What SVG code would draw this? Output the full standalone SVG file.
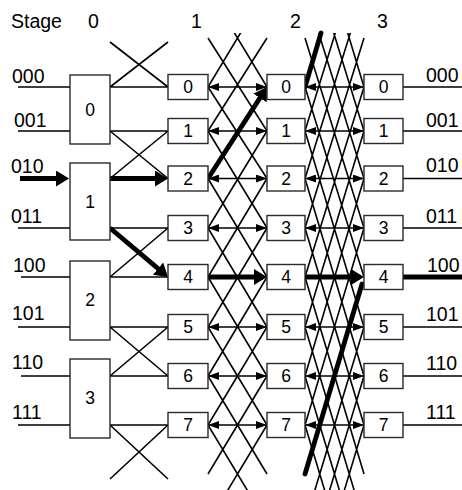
<svg xmlns="http://www.w3.org/2000/svg" width="462" height="490" viewBox="0 0 462 490">
<style>
.box{fill:#fff;stroke:#2a2a2a;stroke-width:1.4}
.ln{stroke:#000;stroke-width:1.6;fill:none}
.tk{stroke:#000;stroke-width:4.8;fill:none}
text{font-family:"Liberation Sans",Arial,sans-serif;fill:#000}
.lb{font-size:19.5px}
.nm{font-size:17.5px;text-anchor:middle}
.da{marker-start:url(#ah);marker-end:url(#ah)}
.ta{marker-end:url(#th)}
</style>
<defs>
<marker id="ah" markerUnits="userSpaceOnUse" markerWidth="11" markerHeight="8" refX="11" refY="4" orient="auto-start-reverse" viewBox="0 0 11 8"><path d="M0,0L11,4L0,8z" fill="#000"/></marker>
<marker id="th" markerUnits="userSpaceOnUse" markerWidth="13" markerHeight="16" refX="9" refY="8" orient="auto" viewBox="0 0 13 16"><path d="M0,0L13,8L0,16z" fill="#000"/></marker>
<clipPath id="c1"><rect x="200" y="33" width="75" height="457"/></clipPath>
<clipPath id="c2"><rect x="298" y="33" width="74" height="457"/></clipPath>
</defs>

<g id="connectors">
<path class="ln" d="M18,87H70 M18,131H70 M18,228H70 M21,277H70 M18,327H70 M21,376H70 M18,425H70"/>
<path class="ln" d="M110,87H168 M110,87L168,42 M110,42L168,87 M110,131H168 M110,131L168,178.5 M110,178.5L168,131 M110,228H168 M110,277L168,228 M110,277H168 M110,327H168 M110,327L168,376 M110,376L168,327 M110,376H168 M110,425H168 M110,425L168,479 M110,479L168,425"/>
<g clip-path="url(#c1)">
<path class="ln" d="M208,-11L267,87 M208,38L267,131 M208,87L267,178.5 M208,131L267,228 M208,178.5L267,277 M208,228L267,327 M208,277L267,376 M208,327L267,425 M208,376L267,474 M208,425L267,523 M208,87L267,-11 M208,131L267,38 M208,228L267,131 M208,277L267,178.5 M208,327L267,228 M208,376L267,277 M208,425L267,327 M208,474L267,376 M208,523L267,425"/>
</g>
<g clip-path="url(#c2)">
<path class="ln" d="M305,-109L364,87 M305,-60L364,131 M305,-11L364,178.5 M305,38L364,228 M305,87L364,277 M305,131L364,327 M305,178.5L364,376 M305,228L364,425 M305,277L364,474 M305,327L364,523 M305,376L364,572 M305,425L364,621 M305,131L364,-60 M305,178.5L364,-11 M305,228L364,38 M305,277L364,87 M305,327L364,131 M305,376L364,178.5 M305,425L364,228 M305,523L364,327 M305,572L364,376 M305,621L364,425"/>
</g>
<g class="ln da">
<path d="M208,87H267"/><path d="M208,131H267"/><path d="M208,178.5H267"/><path d="M208,228H267"/><path d="M208,327H267"/><path d="M208,376H267"/><path d="M208,425H267"/>
<path d="M305,87H364"/><path d="M305,131H364"/><path d="M305,178.5H364"/><path d="M305,228H364"/><path d="M305,327H364"/><path d="M305,376H364"/><path d="M305,425H364"/>
</g>
<path class="ln" d="M403,87H462 M403,131H462 M403,178.5H462 M403,228H462 M403,327H462 M403,376H462 M403,425H462"/>
<g class="tk">
<path class="ta" d="M20,178.5H65"/>
<path class="ta" d="M110,178.5H164"/>
<path class="ta" d="M110,228L164.9,274.4"/>
<path class="ta" d="M208,178.5L264.8,90.4"/>
<path class="ta" d="M208,277H263"/>
<path class="ta" d="M305,277H360"/>
<path d="M305,87L321,33" stroke-linecap="round"/>
<path d="M305,474L362,284" stroke-linecap="round"/>
<path d="M403,277H462"/>
</g>
</g>

<g id="stage-labels" class="lb">
<text x="11" y="28">Stage</text><text x="88" y="28">0</text><text x="191" y="28">1</text><text x="290" y="28">2</text><text x="377" y="28">3</text>
</g>
<g id="in-labels" class="lb">
<text x="12" y="83">000</text><text x="14" y="127">001</text><text x="11" y="173">010</text><text x="11" y="223">011</text><text x="13" y="272">100</text><text x="12" y="320">101</text><text x="12" y="369">110</text><text x="12" y="419">111</text>
</g>
<g id="out-labels" class="lb">
<text x="426" y="82">000</text><text x="426" y="127">001</text><text x="426" y="172">010</text><text x="426" y="223">011</text><text x="427" y="272">100</text><text x="426" y="321">101</text><text x="426" y="370">110</text><text x="426" y="419">111</text>
</g>

<g id="s0-0"><rect class="box" x="70" y="75" width="40" height="69"/><text class="nm" x="90" y="115.5">0</text></g>
<g id="s0-1"><rect class="box" x="70" y="163" width="40" height="77"/><text class="nm" x="90" y="207.5">1</text></g>
<g id="s0-2"><rect class="box" x="70" y="261" width="40" height="79"/><text class="nm" x="90" y="305.5">2</text></g>
<g id="s0-3"><rect class="box" x="70" y="359" width="40" height="79"/><text class="nm" x="90" y="403.5">3</text></g>

<g id="s1-0"><rect class="box" x="168" y="74.5" width="40" height="25"/><text class="nm" x="188" y="93.3">0</text></g>
<g id="s1-1"><rect class="box" x="168" y="118.5" width="40" height="25"/><text class="nm" x="188" y="137.3">1</text></g>
<g id="s1-2"><rect class="box" x="168" y="166" width="40" height="25"/><text class="nm" x="188" y="184.8">2</text></g>
<g id="s1-3"><rect class="box" x="168" y="215.5" width="40" height="25"/><text class="nm" x="188" y="234.3">3</text></g>
<g id="s1-4"><rect class="box" x="168" y="264.5" width="40" height="25"/><text class="nm" x="188" y="283.3">4</text></g>
<g id="s1-5"><rect class="box" x="168" y="314.5" width="40" height="25"/><text class="nm" x="188" y="333.3">5</text></g>
<g id="s1-6"><rect class="box" x="168" y="363.5" width="40" height="25"/><text class="nm" x="188" y="382.3">6</text></g>
<g id="s1-7"><rect class="box" x="168" y="412.5" width="40" height="25"/><text class="nm" x="188" y="431.3">7</text></g>

<g id="s2-0"><rect class="box" x="267" y="74.5" width="38" height="25"/><text class="nm" x="286" y="93.3">0</text></g>
<g id="s2-1"><rect class="box" x="267" y="118.5" width="38" height="25"/><text class="nm" x="286" y="137.3">1</text></g>
<g id="s2-2"><rect class="box" x="267" y="166" width="38" height="25"/><text class="nm" x="286" y="184.8">2</text></g>
<g id="s2-3"><rect class="box" x="267" y="215.5" width="38" height="25"/><text class="nm" x="286" y="234.3">3</text></g>
<g id="s2-4"><rect class="box" x="267" y="264.5" width="38" height="25"/><text class="nm" x="286" y="283.3">4</text></g>
<g id="s2-5"><rect class="box" x="267" y="314.5" width="38" height="25"/><text class="nm" x="286" y="333.3">5</text></g>
<g id="s2-6"><rect class="box" x="267" y="363.5" width="38" height="25"/><text class="nm" x="286" y="382.3">6</text></g>
<g id="s2-7"><rect class="box" x="267" y="412.5" width="38" height="25"/><text class="nm" x="286" y="431.3">7</text></g>

<g id="s3-0"><rect class="box" x="364" y="74.5" width="39" height="25"/><text class="nm" x="383.5" y="93.3">0</text></g>
<g id="s3-1"><rect class="box" x="364" y="118.5" width="39" height="25"/><text class="nm" x="383.5" y="137.3">1</text></g>
<g id="s3-2"><rect class="box" x="364" y="166" width="39" height="25"/><text class="nm" x="383.5" y="184.8">2</text></g>
<g id="s3-3"><rect class="box" x="364" y="215.5" width="39" height="25"/><text class="nm" x="383.5" y="234.3">3</text></g>
<g id="s3-4"><rect class="box" x="364" y="264.5" width="39" height="25"/><text class="nm" x="383.5" y="283.3">4</text></g>
<g id="s3-5"><rect class="box" x="364" y="314.5" width="39" height="25"/><text class="nm" x="383.5" y="333.3">5</text></g>
<g id="s3-6"><rect class="box" x="364" y="363.5" width="39" height="25"/><text class="nm" x="383.5" y="382.3">6</text></g>
<g id="s3-7"><rect class="box" x="364" y="412.5" width="39" height="25"/><text class="nm" x="383.5" y="431.3">7</text></g>
</svg>
